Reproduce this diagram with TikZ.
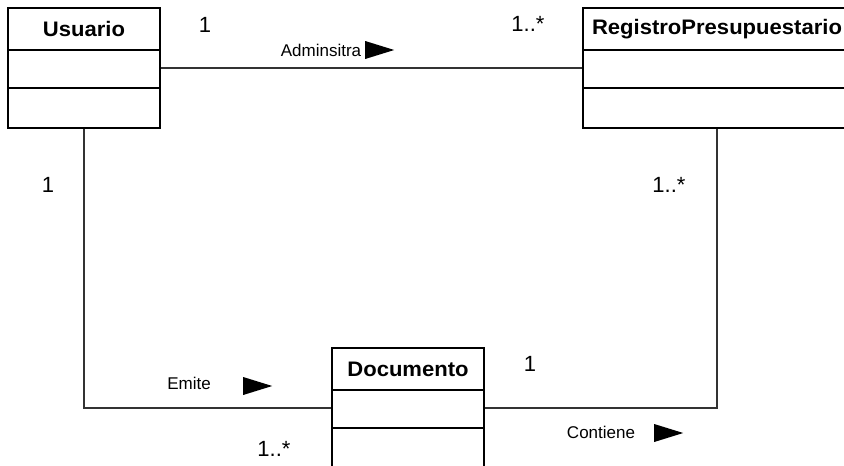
\documentclass[tikz,border=0pt]{standalone}
\usepackage{fontspec}
\setmainfont{Liberation Sans}
\usetikzlibrary{shapes.geometric,positioning}

\tikzstyle{classbox} = [rectangle, draw=black, line width=1.8pt, minimum width=152pt, minimum height=120pt, inner sep=0pt]
\tikzstyle{classname} = [font=\bfseries\fontsize{21}{24}\selectfont, xscale=1.05, inner sep=0pt]
\tikzstyle{mult} = [font=\fontsize{22}{26}\selectfont, inner sep=0pt]
\tikzstyle{rolename} = [font=\fontsize{17}{20}\selectfont, inner sep=0pt]
\tikzstyle{dirmark} = [isosceles triangle, isosceles triangle stretches, fill=black, inner sep=0pt, minimum width=18pt, minimum height=29pt, anchor=west]
\tikzstyle{assoc} = [line width=1.3pt, black!80]

\begin{document}
\begin{tikzpicture}[x=1pt, y=-1pt]
        \useasboundingbox (0,0) rectangle (844,466);
        \clip (0,0) rectangle (844,466);

        % Classes
        \node (usuario) [classbox] at (84,68) {};
        \node (registro) [classbox, minimum width=268pt] at (717,68) {};
        \node (documento) [classbox] at (408,408) {};

        % Compartments and class names
        \foreach \cls in {usuario,registro,documento} {
            \draw [line width=1.8pt] ([yshift=-43pt]\cls.north west) -- ([yshift=-43pt]\cls.north east);
            \draw [line width=1.8pt] ([yshift=-81pt]\cls.north west) -- ([yshift=-81pt]\cls.north east);
        }
        \node (usuario_name) [classname] at ([yshift=-22pt]usuario.north) {Usuario};
        \node (registro_name) [classname] at ([yshift=-22pt]registro.north) {RegistroPresupuestario};
        \node (documento_name) [classname] at ([yshift=-22pt]documento.north) {Documento};

        % Associations
        \draw [assoc] (usuario.east) -- (registro.west);
        \draw [assoc] (usuario.south) |- (documento.west);
        \draw [assoc] (documento.east) -| (registro.south);

        % Usuario - RegistroPresupuestario
        \node (adm_u) [mult] at (205,25) {1};
        \node (adm_r) [mult] at (528,24) {1..*};
        \node (adm_name) [rolename] at (321,50) {Adminsitra};
        \node (adm_dir) [dirmark] at (365,50) {};

        % Usuario - Documento
        \node (emi_u) [mult] at (48,185) {1};
        \node (emi_d) [mult] at (274,449) {1..*};
        \node (emi_name) [rolename] at (189,383) {Emite};
        \node (emi_dir) [dirmark] at (243,386) {};

        % Documento - RegistroPresupuestario
        \node (con_d) [mult] at (530,364) {1};
        \node (con_r) [mult] at (669,185) {1..*};
        \node (con_name) [rolename] at (601,432) {Contiene};
        \node (con_dir) [dirmark] at (654,433) {};
    \end{tikzpicture}
\end{document}
